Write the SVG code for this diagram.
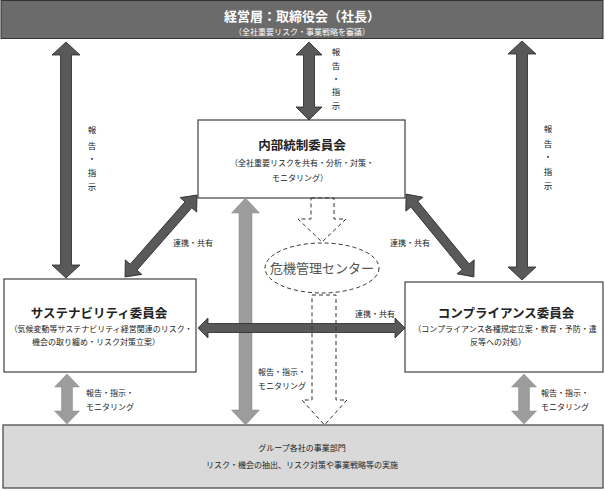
<svg xmlns="http://www.w3.org/2000/svg" width="605" height="491" viewBox="0 0 605 491">
<style>
text{font-family:"Noto Sans CJK JP","Noto Sans",sans-serif;fill:#222}
.box{fill:#fff;stroke:#404040;stroke-width:1.2}
.title{font-size:12.5px;font-weight:bold;text-anchor:middle}
.sub{font-size:8px;text-anchor:middle}
.lbl{font-size:8px}
.vl{font-size:8.5px;text-anchor:middle}
.dark{fill:#595959;stroke:#262626;stroke-width:0.8}
.gray{fill:#9c9c9c;stroke:#8a8a8a;stroke-width:0.5}
.dash{fill:none;stroke:#333;stroke-width:1;stroke-dasharray:4 3}
</style>
<rect width="605" height="491" fill="#fff"/>
<g id="board">
<rect x="1" y="0.5" width="602" height="38" fill="#6b6b6b" stroke="#333" stroke-width="1"/>
<text x="302" y="21" style="font-size:13px;font-weight:bold;fill:#fff;text-anchor:middle">経営層：取締役会（社長）</text>
<text x="302" y="35" style="font-size:8px;fill:#fff;text-anchor:middle">（全社重要リスク・事業戦略を審議）</text>
</g>
<g id="bottom">
<rect x="3" y="425" width="600" height="63" fill="#d9d9d9" stroke="#404040" stroke-width="1.2"/>
<text class="sub" x="302" y="451">グループ各社の事業部門</text>
<text class="sub" x="302" y="468">リスク・機会の抽出、リスク対策や事業戦略等の実施</text>
</g>
<g id="internal">
<rect class="box" x="198" y="120" width="207" height="78"/>
<text class="title" x="302" y="150">内部統制委員会</text>
<text class="sub" x="302" y="166">（全社重要リスクを共有・分析・対策・</text>
<text class="sub" x="300" y="181">モニタリング）</text>
</g>
<g id="sustain">
<rect class="box" x="4" y="279" width="192" height="93"/>
<text class="title" x="99" y="318">サステナビリティ委員会</text>
<text class="sub" x="101" y="332">（気候変動等サステナビリティ経営関連のリスク・</text>
<text class="sub" x="96" y="345">機会の取り纏め・リスク対策立案）</text>
</g>
<g id="compliance">
<rect class="box" x="405" y="282" width="198" height="90"/>
<text class="title" x="506" y="318">コンプライアンス委員会</text>
<text class="sub" x="505" y="332">（コンプライアンス各種規定立案・教育・予防・違</text>
<text class="sub" x="498" y="345">反等への対処）</text>
</g>
<g id="connectors">
<path class="gray" transform="translate(245.5,311.5) rotate(90)" d="M-113.5 0L-98.5 -14L-98.5 -6.5L98.5 -6.5L98.5 -14L113.5 0L98.5 14L98.5 6.5L-98.5 6.5L-98.5 14Z"/>
<path class="gray" transform="translate(67,399) rotate(90)" d="M-25 0L-12 -12.5L-12 -5.5L12 -5.5L12 -12.5L25 0L12 12.5L12 5.5L-12 5.5L-12 12.5Z"/>
<path class="gray" transform="translate(524,399) rotate(90)" d="M-25 0L-12 -12.5L-12 -5.5L12 -5.5L12 -12.5L25 0L12 12.5L12 5.5L-12 5.5L-12 12.5Z"/>
<path class="dark" transform="translate(66,160) rotate(90)" d="M-118 0L-105 -14L-105 -5.5L105 -5.5L105 -14L118 0L105 14L105 5.5L-105 5.5L-105 14Z"/>
<path class="dark" transform="translate(522,160.5) rotate(90)" d="M-119.5 0L-106.5 -14L-106.5 -5.5L106.5 -5.5L106.5 -14L119.5 0L106.5 14L106.5 5.5L-106.5 5.5L-106.5 14Z"/>
<path class="dark" transform="translate(309,81) rotate(90)" d="M-39 0L-26 -13L-26 -5.5L26 -5.5L26 -13L39 0L26 13L26 5.5L-26 5.5L-26 13Z"/>
<path class="dark" transform="translate(161,236) rotate(-48.7)" d="M-54.5 0L-41.5 -11L-41.5 -4.5L41.5 -4.5L41.5 -11L54.5 0L41.5 11L41.5 4.5L-41.5 4.5L-41.5 11Z"/>
<path class="dark" transform="translate(440,235.5) rotate(50.7)" d="M-53.5 0L-40.5 -11L-40.5 -4.5L40.5 -4.5L40.5 -11L53.5 0L40.5 11L40.5 4.5L-40.5 4.5L-40.5 11Z"/>
<path class="dark" transform="translate(301.5,328)" d="M-103.5 0L-93.5 -10L-93.5 -4.5L93.5 -4.5L93.5 -10L103.5 0L93.5 10L93.5 4.5L-93.5 4.5L-93.5 10Z"/>
<path class="dash" d="M311 198L334 198L334 219L346 219L322 242L298 219L311 219Z"/>
<path class="dash" d="M312 295L336 295L336 400L347 400L324.5 425L302 400L312 400Z"/>
<text class="vl" x="92" y="133">報</text>
<text class="vl" x="92" y="149">告</text>
<text class="vl" x="92" y="162">・</text>
<text class="vl" x="92" y="176">指</text>
<text class="vl" x="92" y="190">示</text>
<text class="vl" x="548" y="132">報</text>
<text class="vl" x="548" y="147">告</text>
<text class="vl" x="548" y="160">・</text>
<text class="vl" x="548" y="175">指</text>
<text class="vl" x="548" y="189">示</text>
<text class="vl" x="336" y="55">報</text>
<text class="vl" x="336" y="69">告</text>
<text class="vl" x="336" y="82">・</text>
<text class="vl" x="336" y="95">指</text>
<text class="vl" x="336" y="109">示</text>
<text class="lbl" x="193" y="246" text-anchor="middle">連携・共有</text>
<text class="lbl" x="410" y="246" text-anchor="middle">連携・共有</text>
<text class="lbl" x="375" y="317" text-anchor="middle">連携・共有</text>
<text class="lbl" x="258" y="375">報告・指示・</text>
<text class="lbl" x="258" y="389">モニタリング</text>
<text class="lbl" x="86" y="396">報告・指示・</text>
<text class="lbl" x="86" y="410">モニタリング</text>
<text class="lbl" x="541" y="396">報告・指示・</text>
<text class="lbl" x="541" y="410">モニタリング</text>
</g>
<g id="crisis">
<ellipse cx="322" cy="268" rx="57" ry="25" fill="#fff" stroke="#333" stroke-width="1" stroke-dasharray="4 3"/>
<text x="322" y="273" style="font-size:13px;fill:#555;text-anchor:middle">危機管理センター</text>
</g>
</svg>
